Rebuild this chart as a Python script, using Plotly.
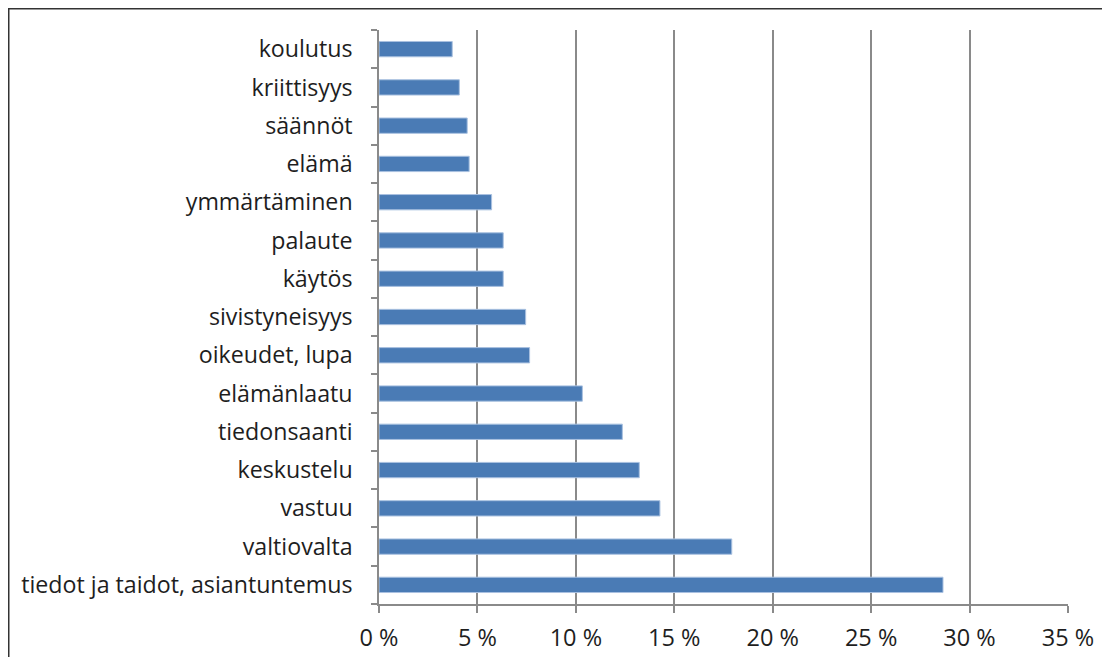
import plotly.graph_objects as go

categories = ["tiedot ja taidot, asiantuntemus", "valtiovalta", "vastuu", "keskustelu",
              "tiedonsaanti", "elämänlaatu", "oikeudet, lupa", "sivistyneisyys", "käytös",
              "palaute", "ymmärtäminen", "elämä", "säännöt", "kriittisyys", "koulutus"]
values = [28.65, 17.92, 14.27, 13.22, 12.36, 10.33, 7.65, 7.45, 6.31, 6.31, 5.72, 4.58, 4.48, 4.08, 3.72]
tick_vals = [0, 5, 10, 15, 20, 25, 30, 35]
tick_text = ["0 %", "5 %", "10 %", "15 %", "20 %", "25 %", "30 %", "35 %"]

# the page adds an 8px body margin, so the figure is laid out 8px in from the window edge
W, H = 1102, 649
L, R, T, B = 371, 42, 22, 53
pw, ph = W - L - R, H - T - B

def px(x):
    return (x - L) / pw

def py(y):
    return (H - B - y) / ph

fig = go.Figure(go.Bar(
    y=categories, x=values, orientation="h",
    marker=dict(color="#4a7bb5", line=dict(color="#a9c1e0", width=1)),
    width=0.4,
))

fam = "Open Sans, Lato, sans-serif"

fig.update_layout(
    width=W, height=H,
    margin=dict(l=L, r=R, t=T, b=B, autoexpand=False),
    paper_bgcolor="white", plot_bgcolor="white",
    showlegend=False,
    font=dict(family=fam, size=22, color="#1e1e1e"),
    xaxis=dict(range=[0, 35], tickvals=tick_vals, ticktext=tick_text,
               tickfont=dict(family=fam, size=23.5, color="#1e1e1e"),
               showgrid=True, gridcolor="#8a8a8a", gridwidth=1.5,
               showline=True, linecolor="#8a8a8a", linewidth=1.5,
               ticks="outside", ticklen=7, tickcolor="#8a8a8a", tickwidth=1.5,
               zeroline=False, fixedrange=True, ticklabelstandoff=5,
               automargin=False),
    yaxis=dict(range=[-0.5, 14.5], showgrid=False,
               tickfont=dict(family=fam, size=23.2, color="#1e1e1e"),
               showline=True, linecolor="#8a8a8a", linewidth=1.5,
               ticks="outside", ticklen=6, tickcolor="#8a8a8a", tickwidth=1.5,
               tickson="boundaries", ticklabelstandoff=20,
               zeroline=False, fixedrange=True, automargin=False),
    shapes=[
        dict(type="line", xref="paper", yref="paper",
             x0=px(0.75), x1=px(0.75), y0=py(0), y1=py(H),
             line=dict(color="#333333", width=1.5)),
        dict(type="line", xref="paper", yref="paper",
             x0=px(0), x1=px(1095), y0=py(0.75), y1=py(0.75),
             line=dict(color="#333333", width=1.5)),
    ],
)

fig.write_html("out.html")
